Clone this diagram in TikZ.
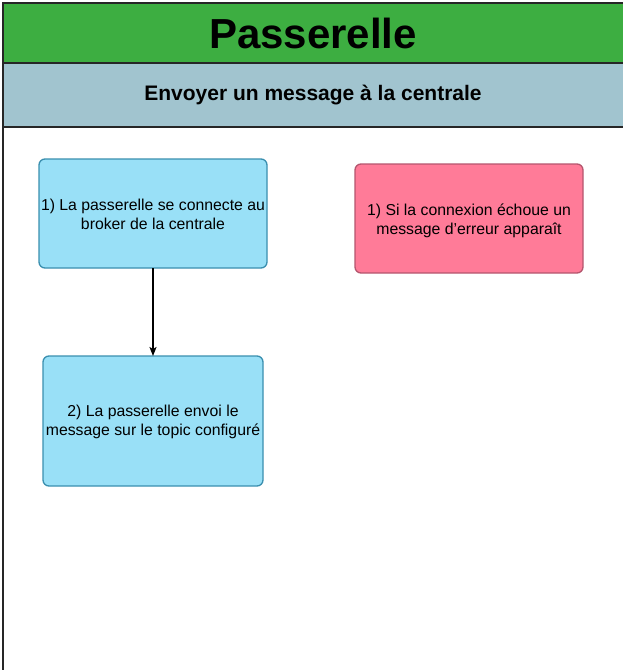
\documentclass[tikz,border=0pt]{standalone}
\usepackage{fontspec}
\setmainfont{Liberation Sans}
\usetikzlibrary{arrows.meta}
\definecolor{hgreen}{HTML}{3DAE41}
\definecolor{hblue}{HTML}{A1C4CF}
\definecolor{sfill}{HTML}{99E0F7}
\definecolor{sdraw}{HTML}{3A8FAF}
\definecolor{rfill}{HTML}{FF7B98}
\definecolor{rdraw}{HTML}{B5566E}
\begin{document}
\begin{tikzpicture}[x=1pt,y=-1pt,
  stepbox/.style={rounded corners=6pt, line width=1.3pt},
  bluebox/.style={stepbox, fill=sfill, draw=sdraw},
  redbox/.style={stepbox, fill=rfill, draw=rdraw},
  txt/.style={font=\fontsize{15.8}{19}\selectfont, align=center, inner sep=0pt}]
\useasboundingbox (0,0) rectangle (623,670);
\fill[white] (0,0) rectangle (623,670);
% frame
\draw[line width=1.3pt, fill=hgreen, draw=black!85] (3,3) rectangle (640,63);
\draw[line width=1.3pt, fill=hblue, draw=black!85] (3,63) rectangle (640,127);
\draw[line width=1.3pt, draw=black!85] (3,127) -- (3,690);
\node[font=\bfseries\fontsize{42}{46}\selectfont] (title) at (313,33) {Passerelle};
\node[font=\bfseries\fontsize{21}{24}\selectfont] (sub) at (313,95) {Envoyer un message à la centrale};
% boxes
\draw[bluebox] (39,159) rectangle (267,268);
\node[txt] (b1) at (153,214) {1) La passerelle se connecte au\\broker de la centrale};
\coordinate (b1s) at (153,268);
\draw[bluebox] (43,356) rectangle (263,486);
\node[txt] (b2) at (153,422) {2) La passerelle envoi le\\message sur le topic configuré};
\coordinate (b2n) at (153,356);
\draw[redbox] (355,164) rectangle (583,273);
\node[txt] (r1) at (469,221) {1) Si la connexion échoue un\\message d'erreur apparaît};
\draw[-{Stealth[length=9pt,width=7pt,inset=2pt]}, line width=1.4pt] (b1s) -- (b2n);
\end{tikzpicture}
\end{document}
